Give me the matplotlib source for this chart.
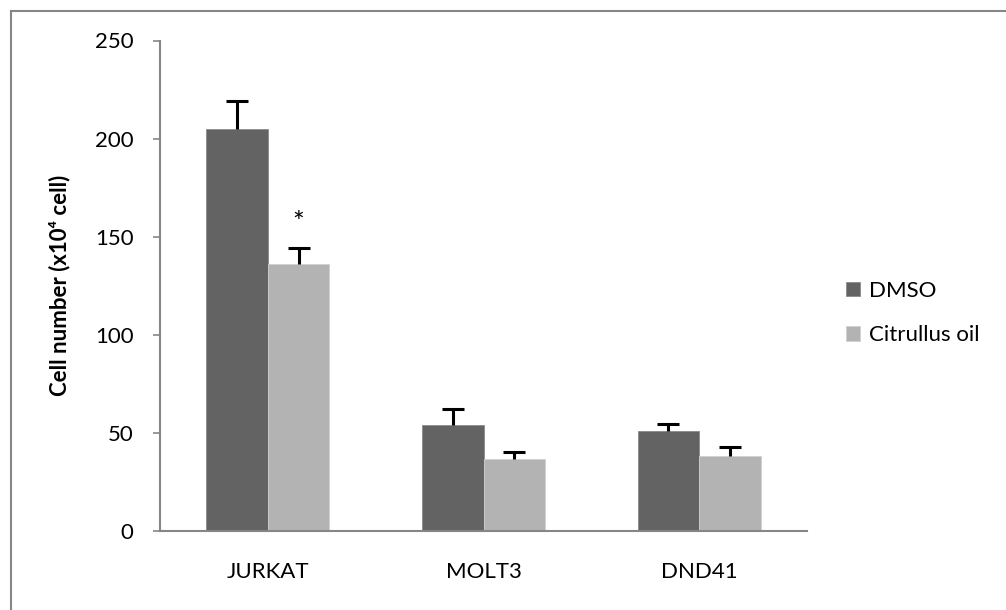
import numpy as np
import matplotlib.pyplot as plt
from matplotlib.lines import Line2D

cells = ['JURKAT', 'MOLT3', 'DND41']
dmso = [204.7, 54.2, 51.1]
dmso_err = [14.6, 8.0, 3.6]
citrullus = [135.9, 36.5, 38.4]
citrullus_err = [8.5, 3.8, 4.4]

plt.rcParams['font.family'] = ['Lato', 'DejaVu Sans']

fig = plt.figure(figsize=(10.06, 6.10), dpi=100)
ax = fig.add_axes([160 / 1006, 79 / 610, 647 / 1006, 490.5 / 610])

x = np.arange(len(cells))
w = 0.285
ax.bar(x - w / 2, dmso, w, color='#636363', edgecolor='#8a8a8a', linewidth=0.6,
       label='DMSO', zorder=2)
ax.bar(x + w / 2, citrullus, w, color='#b3b3b3', edgecolor='#d0d0d0', linewidth=0.6,
       label='Citrullus oil', zorder=2)

# plus-only error bars, hide the lower cap
for xs, ys, es in [(x - w / 2, dmso, dmso_err), (x + w / 2, citrullus, citrullus_err)]:
    eb = ax.errorbar(xs, ys, yerr=[np.zeros(3), es], fmt='none', ecolor='black',
                     elinewidth=2.2, capsize=8, capthick=2.2, zorder=3)
    eb[1][0].set_visible(False)

# significance mark
ax.annotate('*', (x[0] + w / 2, citrullus[0] + citrullus_err[0]), xytext=(0, 17),
            textcoords='offset points', ha='center', va='center', fontsize=20)

ax.set_xlim(-0.5, 2.5)
ax.set_ylim(0, 250)
ax.set_yticks(np.arange(0, 251, 50))
ax.set_xticks(x)
ax.set_xticklabels(cells)
ax.tick_params(axis='x', length=0, pad=22, labelsize=16)
ax.tick_params(axis='y', length=5, width=1.2, color='#868686', pad=14, labelsize=16)
for s in ['top', 'right']:
    ax.spines[s].set_visible(False)
for s in ['left', 'bottom']:
    ax.spines[s].set_color('#868686')
    ax.spines[s].set_linewidth(1.5)

ax.set_ylabel('Cell number (x10\u2074 cell)', fontweight='bold', fontsize=16, labelpad=18)

leg = ax.legend(loc='center left', bbox_to_anchor=(1.03, 0.444), frameon=False, fontsize=16,
                handlelength=0.62, handleheight=0.62, handletextpad=0.4, labelspacing=1.1)

# outer chart frame
fig.add_artist(Line2D([10.5 / 1006, 10.5 / 1006], [0, 1 - 10.5 / 610], color='#868686', lw=1.5))
fig.add_artist(Line2D([10.5 / 1006, 1], [1 - 10.5 / 610, 1 - 10.5 / 610], color='#868686', lw=1.5))

fig.savefig('out.png', dpi=100)
